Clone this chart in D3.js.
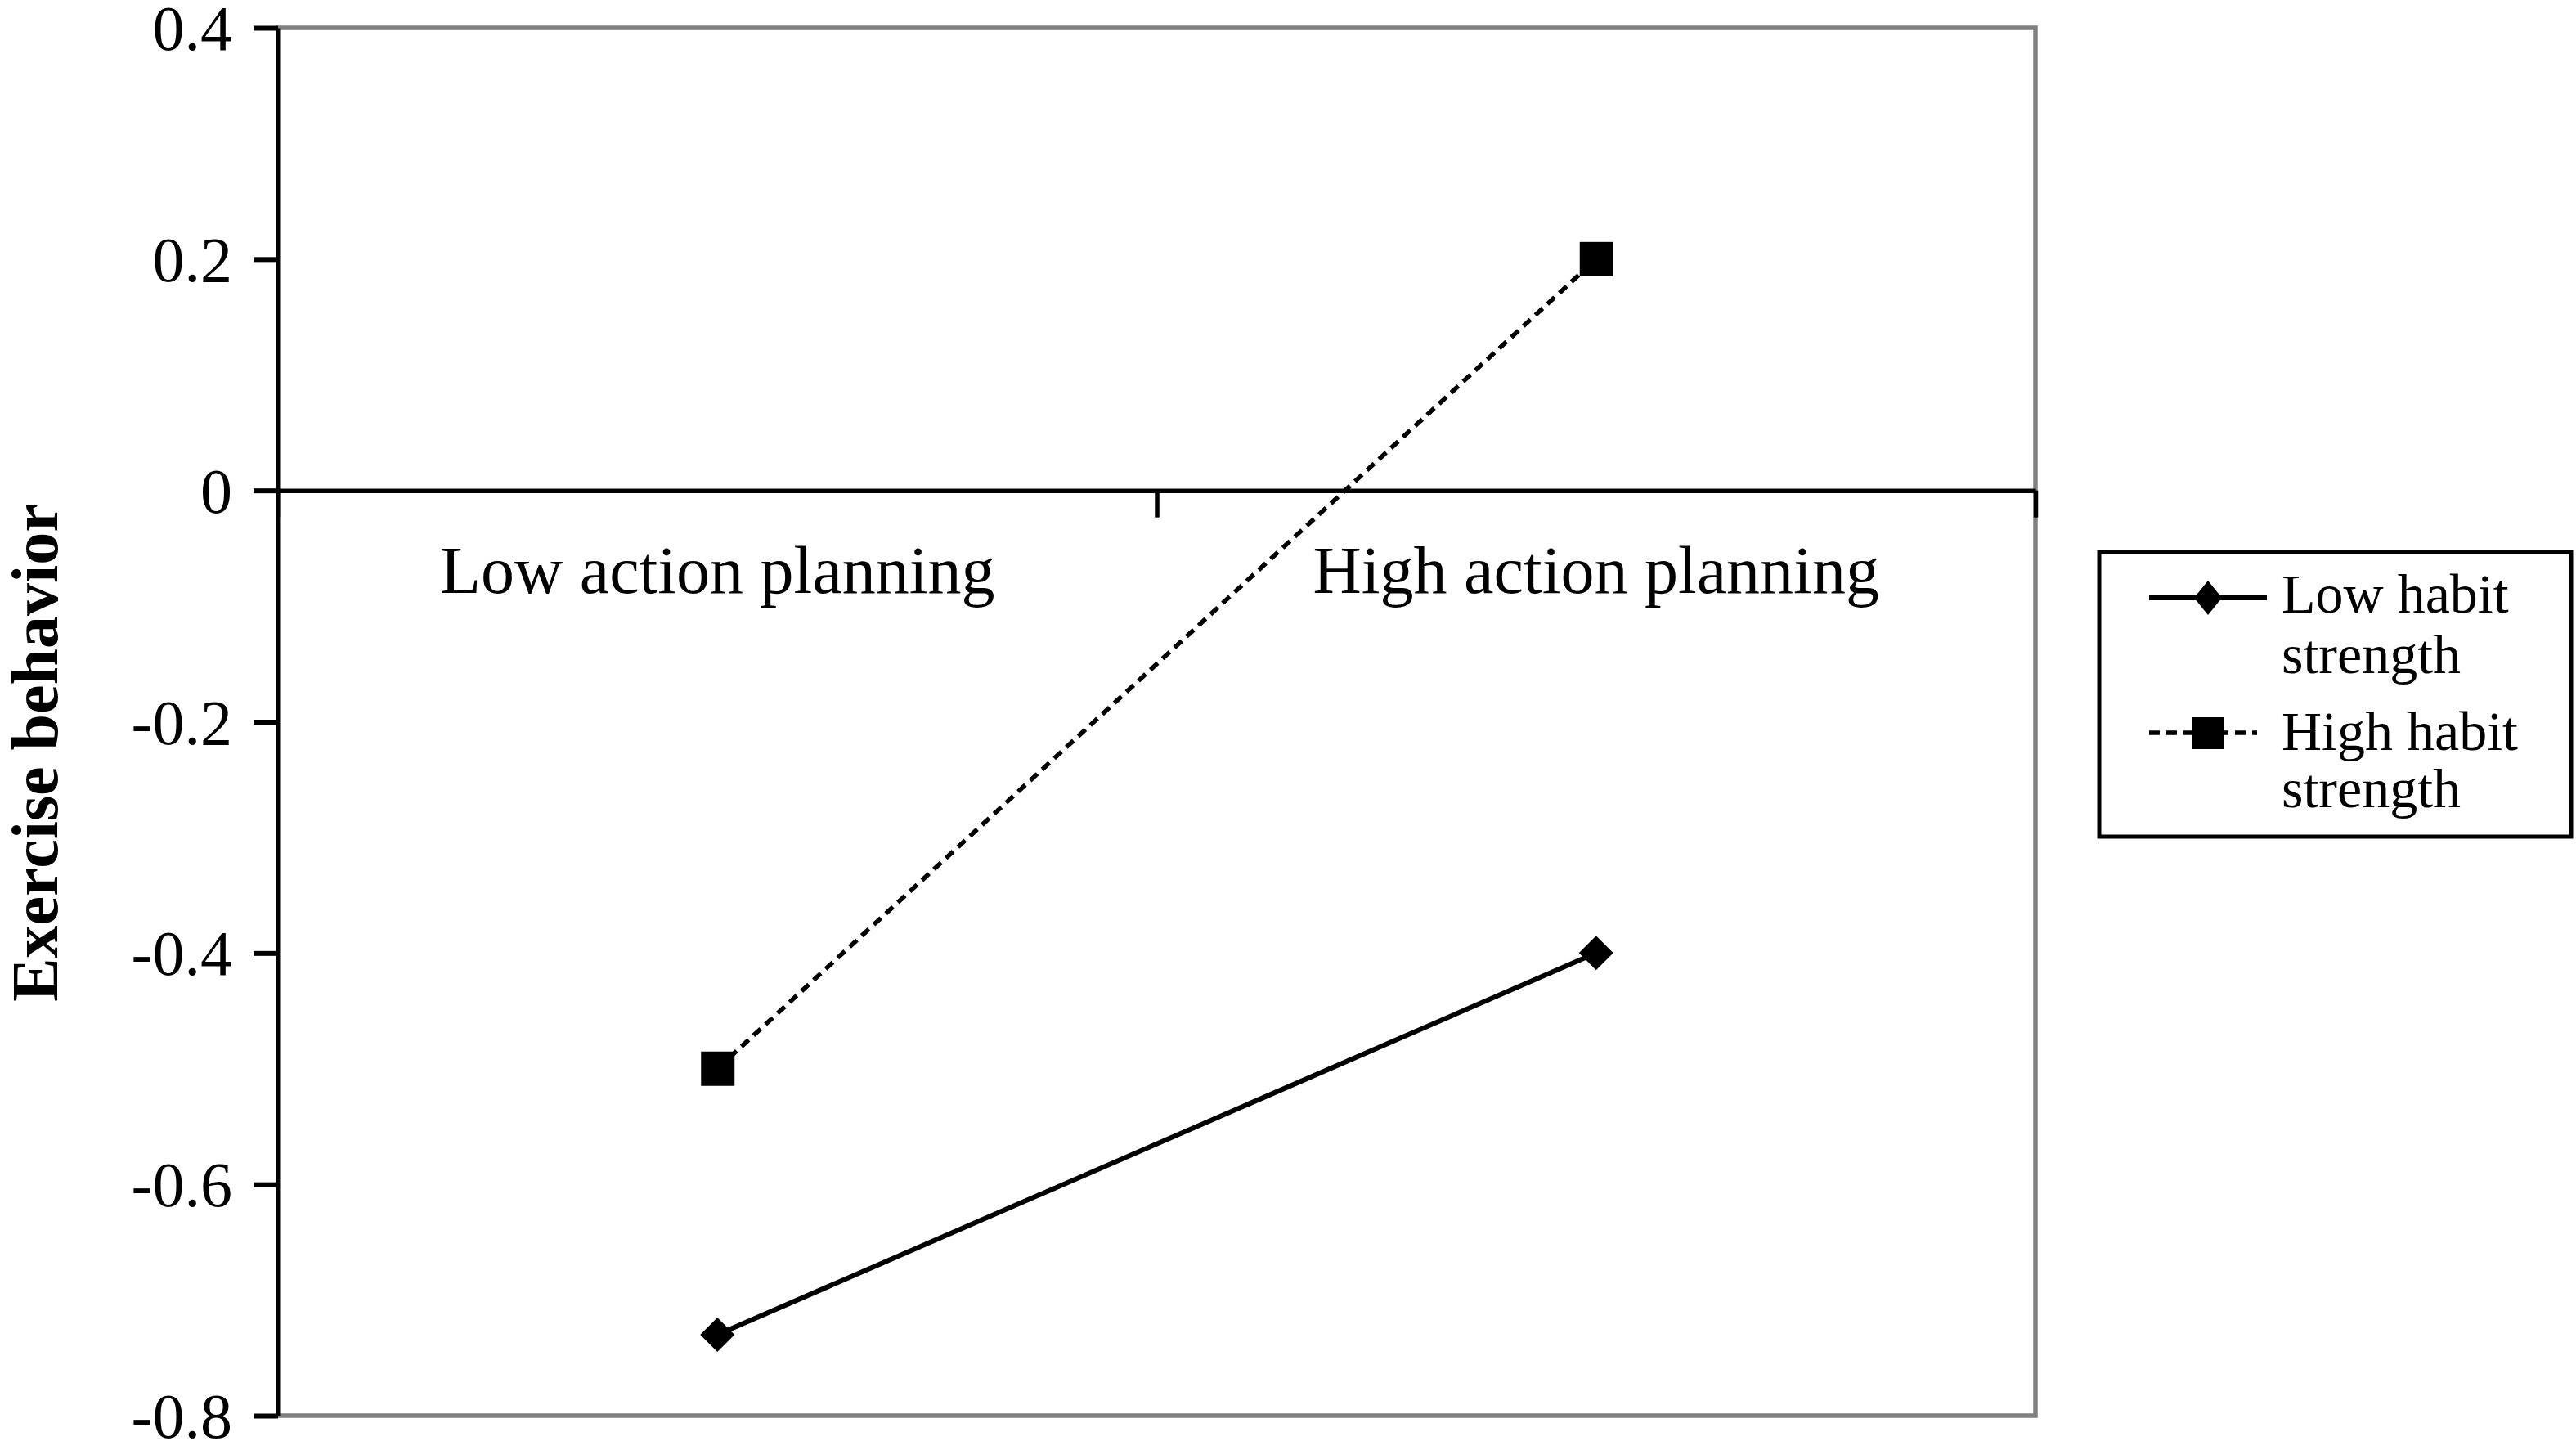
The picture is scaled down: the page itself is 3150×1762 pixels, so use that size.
<!DOCTYPE html>
<html>
<head>
<meta charset="utf-8">
<script src="https://cdn.jsdelivr.net/npm/d3@7"></script>
<style>
  html, body { margin: 0; padding: 0; background: #ffffff; }
  svg { display: block; }
  text { font-family: "Liberation Serif", "Times New Roman", serif; fill: #000; }
</style>
</head>
<body>
<svg id="chart" width="3150" height="1762"></svg>
<script>
// ---- data ----
const categories = ["Low action planning", "High action planning"];
const seriesNames = ["Low habit strength", "High habit strength"];
const legendLines = [["Low habit", "strength"], ["High habit", "strength"]];
const lowHabitValues = [-0.73, -0.40];
const highHabitValues = [-0.50, 0.20];
const yTickValues = [-0.8, -0.6, -0.4, -0.2, 0, 0.2, 0.4];
const yTickLabels = ["-0.8", "-0.6", "-0.4", "-0.2", "0", "0.2", "0.4"];
const yTitle = "Exercise behavior";

// ---- layout ----
const plot = { left: 340, right: 2489, top: 34, bottom: 1731 };
const svg = d3.select("#chart");

const y = d3.scaleLinear().domain([-0.8, 0.4]).range([plot.bottom, plot.top]);
const x = d3.scaleBand().domain(categories).range([plot.left, plot.right]).padding(0);
const xEdge = d3.scaleLinear().domain([0, categories.length]).range([plot.left, plot.right]);
const cx = c => x(c) + x.bandwidth() / 2;

// plot border (gray)
svg.append("rect")
  .attr("x", plot.left).attr("y", plot.top)
  .attr("width", plot.right - plot.left).attr("height", plot.bottom - plot.top)
  .attr("fill", "none").attr("stroke", "#808080").attr("stroke-width", 5.5);

// y axis
const yAxis = svg.append("g")
  .attr("transform", `translate(${plot.left},0)`)
  .call(d3.axisLeft(y).tickValues(yTickValues).tickSize(30).tickSizeOuter(0).tickPadding(26)
    .tickFormat((d, i) => yTickLabels[i]));
yAxis.select(".domain").attr("stroke", "#000").attr("stroke-width", 6);
yAxis.selectAll(".tick line").attr("stroke", "#000").attr("stroke-width", 6);
yAxis.selectAll(".tick text")
  .attr("font-family", "Liberation Serif, Times New Roman, serif")
  .attr("font-size", 78).attr("fill", "#000").attr("dy", "0.34em");

// x axis at zero line
const xAxis = svg.append("g")
  .attr("transform", `translate(0,${y(0)})`)
  .call(d3.axisBottom(xEdge).tickValues(d3.range(0, categories.length + 1)).tickSize(33).tickSizeOuter(0).tickFormat(""));
xAxis.select(".domain").attr("stroke", "#000").attr("stroke-width", 5.5);
xAxis.selectAll(".tick line").attr("stroke", "#000").attr("stroke-width", 5.5);

// category labels
svg.append("g").selectAll("text").data(categories).join("text")
  .attr("x", d => cx(d)).attr("y", 725)
  .attr("text-anchor", "middle").attr("font-size", 82)
  .text(d => d);

// y title
svg.append("text")
  .attr("transform", `translate(70,920) rotate(-90)`)
  .attr("text-anchor", "middle").attr("font-size", 80).attr("font-weight", "bold")
  .text(yTitle);

// lines
const line = d3.line().x((d, i) => cx(categories[i])).y(d => y(d));
svg.append("path").datum(lowHabitValues)
  .attr("d", line).attr("fill", "none").attr("stroke", "#000").attr("stroke-width", 6);
svg.append("path").datum(highHabitValues)
  .attr("d", line).attr("fill", "none").attr("stroke", "#000").attr("stroke-width", 5.5)
  .attr("stroke-dasharray", "12,8");

// markers
const diamond = (px, py, hw, hh) => `M${px},${py - hh}L${px + hw},${py}L${px},${py + hh}L${px - hw},${py}Z`;
svg.append("g").selectAll("path").data(lowHabitValues).join("path")
  .attr("d", (d, i) => diamond(cx(categories[i]), y(d), 21, 21)).attr("fill", "#000");
svg.append("g").selectAll("rect").data(highHabitValues).join("rect")
  .attr("x", (d, i) => cx(categories[i]) - 20).attr("y", d => y(d) - 21)
  .attr("width", 41).attr("height", 42).attr("fill", "#000");

// legend
const lg = svg.append("g");
lg.append("rect").attr("x", 2567).attr("y", 675).attr("width", 577).attr("height", 348)
  .attr("fill", "#fff").attr("stroke", "#000").attr("stroke-width", 5);
const rowY = [731, 896];
// row 1: solid + diamond
lg.append("line").attr("x1", 2628).attr("x2", 2772).attr("y1", rowY[0]).attr("y2", rowY[0])
  .attr("stroke", "#000").attr("stroke-width", 6);
lg.append("path").attr("d", diamond(2700, rowY[0], 17, 21)).attr("fill", "#000");
// row 2: dashed + square
lg.append("line").attr("x1", 2628).attr("x2", 2760).attr("y1", rowY[1]).attr("y2", rowY[1])
  .attr("stroke", "#000").attr("stroke-width", 5.5).attr("stroke-dasharray", "13,8");
lg.append("rect").attr("x", 2680).attr("y", rowY[1] - 19).attr("width", 40).attr("height", 39).attr("fill", "#000");
// legend text
const textBase = [[749, 823], [917, 987]];
legendLines.forEach((lines, i) => {
  lines.forEach((t, j) => {
    lg.append("text").attr("x", 2790).attr("y", textBase[i][j]).attr("font-size", 68).text(t);
  });
});
</script>
</body>
</html>
